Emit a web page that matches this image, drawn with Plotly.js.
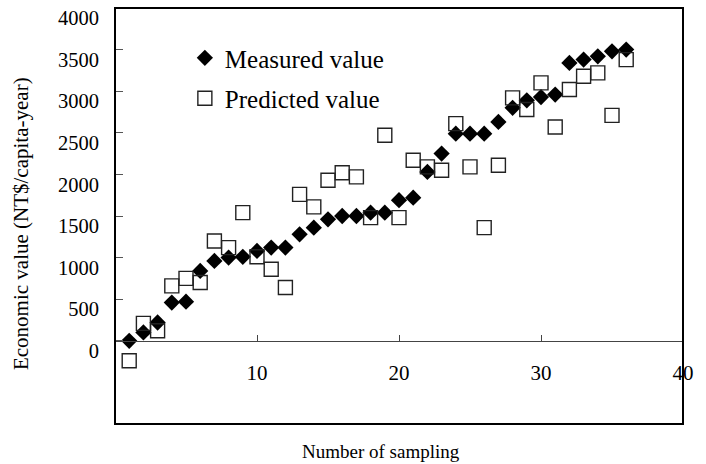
<!DOCTYPE html>
<html>
<head>
<meta charset="utf-8">
<script src="https://cdn.plot.ly/plotly-3.0.1.min.js"></script>
<style>html,body{margin:0;padding:0;background:#fff;}</style>
</head>
<body>
<div id="chart" style="width:706px;height:464px;"></div>
<script>
const sampleNo = [1,2,3,4,5,6,7,8,9,10,11,12,13,14,15,16,17,18,19,20,21,22,23,24,25,26,27,28,29,30,31,32,33,34,35,36];
const measured = [0,100,220,460,470,840,960,1000,1010,1080,1120,1120,1280,1360,1460,1500,1500,1540,1540,1690,1720,2030,2250,2490,2490,2490,2630,2800,2890,2930,2960,3340,3380,3420,3480,3500];
const predicted = [-240,210,120,660,750,700,1200,1120,1540,1010,860,640,1760,1610,1930,2020,1970,1480,2470,1480,2170,2090,2050,2610,2090,1360,2110,2920,2780,3100,2570,3020,3180,3220,2710,3380];
const yTicks = [0,500,1000,1500,2000,2500,3000,3500,4000];
const xTicks = [10,20,30,40];

const serif = "Liberation Serif, Times New Roman, serif";

const traces = [
  {
    x: sampleNo, y: measured, type: 'scatter', mode: 'markers', name: 'Measured value',
    legendgroup: 'm',
    marker: {symbol: 'diamond', size: 12.5, color: '#000', line: {width: 0}}
  },
  {
    x: sampleNo, y: predicted, type: 'scatter', mode: 'markers', name: 'Predicted value',
    legendgroup: 'p',
    marker: {symbol: 'square-open', size: 14, color: '#222', line: {width: 1.4, color: '#222'}}
  }
];

const layout = {
  width: 706, height: 464,
  margin: {l: 115, r: 23, t: 8, b: 40},
  paper_bgcolor: '#fff', plot_bgcolor: '#fff',
  font: {family: serif, size: 19, color: '#000'},
  showlegend: true,
  legend: {
    x: 0.123, y: 0.935, xanchor: 'left', yanchor: 'top',
    bgcolor: 'rgba(0,0,0,0)', borderwidth: 0,
    font: {family: serif, size: 25, color: '#000'},
    traceorder: 'grouped', tracegroupgap: 5
  },
  xaxis: {
    range: [0, 40], tickvals: xTicks, ticktext: xTicks.map(String),
    anchor: 'free', position: 0.2,
    showline: true, linecolor: '#444', linewidth: 1,
    ticks: 'inside', ticklen: 6, tickcolor: '#444', tickwidth: 1,
    showgrid: false, zeroline: false,
    ticklabelstandoff: 13,
    tickfont: {family: serif, size: 21, color: '#000'}
  },
  yaxis: {
    range: [-1000, 4000], tickvals: yTicks, ticktext: yTicks.map(String),
    showline: false,
    ticks: 'inside', ticklen: 8, tickcolor: '#555', tickwidth: 1,
    showgrid: false, zeroline: false,
    ticklabelstandoff: 15, ticklabelshift: 10,
    tickfont: {family: serif, size: 20.5, color: '#000'}
  },
  annotations: [
    {text: 'Number of sampling', xref: 'paper', yref: 'paper', x: 0.468, y: -0.067,
     xanchor: 'center', yanchor: 'middle', showarrow: false,
     font: {family: serif, size: 19, color: '#000'}},
    {text: 'Economic value (NT$/capita-year)', xref: 'paper', yref: 'paper', x: -0.1655, y: 0.483,
     xanchor: 'center', yanchor: 'middle', textangle: -90, showarrow: false,
     font: {family: serif, size: 21, color: '#000'}}
  ],
  shapes: [
    {type: 'rect', xref: 'paper', yref: 'paper', x0: 0, x1: 1, y0: 0, y1: 1,
     line: {color: '#000', width: 2}, fillcolor: 'rgba(0,0,0,0)', layer: 'above'}
  ]
};

Plotly.newPlot('chart', traces, layout, {displayModeBar: false, staticPlot: true});
</script>
</body>
</html>
